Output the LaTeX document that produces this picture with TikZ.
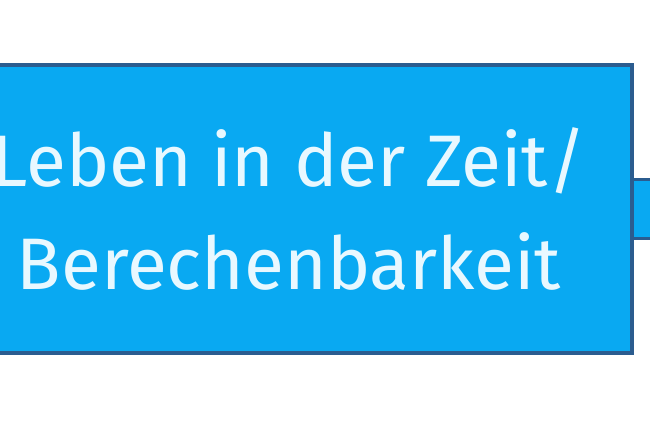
\documentclass[tikz,border=0pt]{standalone}
\usepackage{fontspec}
\setmainfont{Fira Sans}
\definecolor{topicfill}{HTML}{09A9F2}
\definecolor{topicline}{HTML}{2B5C8F}
\definecolor{topictext}{HTML}{E8F8FF}

\begin{document}
\begin{tikzpicture}[x=1pt,y=1pt,
  topic/.style={draw=topicline, line width=4pt, fill=topicfill, text=topictext,
    align=center, font=\fontsize{73}{103}\selectfont,
    minimum width=686pt, minimum height=288pt, inner sep=0pt},
  branch/.style={draw=topicline, line width=3pt, double=topicfill, double distance=56pt}]
\useasboundingbox (0,0) rectangle (650,427);
\clip (0,0) rectangle (650,427);
\fill[white] (0,0) rectangle (650,427);
%% Knoten
\node[topic] (zeit) at (289,218) {Leben in der Zeit/\\Berechenbarkeit};
\coordinate (rand) at (670,218);
%% Ast nach rechts
\draw[branch] (zeit.east) -- (rand);

\end{tikzpicture}
\end{document}
